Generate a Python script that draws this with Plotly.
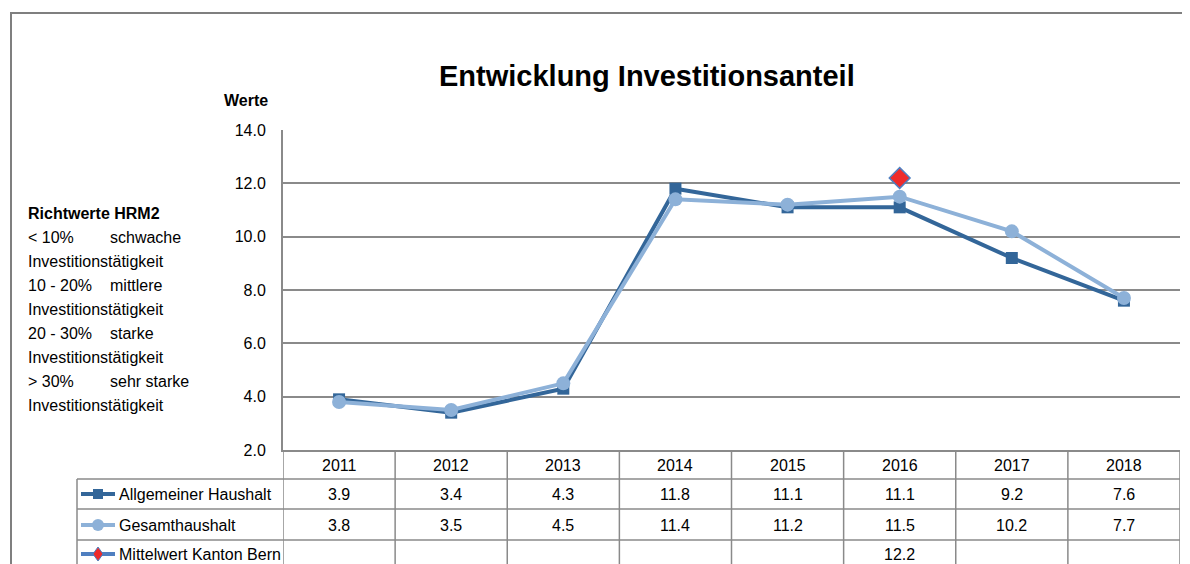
import plotly.graph_objects as go

years = ["2011", "2012", "2013", "2014", "2015", "2016", "2017", "2018"]
allgemeiner = [3.9, 3.4, 4.3, 11.8, 11.1, 11.1, 9.2, 7.6]
gesamt = [3.8, 3.5, 4.5, 11.4, 11.2, 11.5, 10.2, 7.7]
mittelwert = [None, None, None, None, None, 12.2, None, None]
series_names = ["Allgemeiner Haushalt", "Gesamthaushalt", "Mittelwert Kanton Bern"]
y_ticks = [2.0, 4.0, 6.0, 8.0, 10.0, 12.0, 14.0]
title_text = "Entwicklung Investitionsanteil"
y_title = "Werte"
richtwerte_title = "Richtwerte HRM2"
richtwerte_lines = [
    ("< 10%", "schwache"), ("Investitionstätigkeit", ""),
    ("10 - 20%", "mittlere"), ("Investitionstätigkeit", ""),
    ("20 - 30%", "starke"), ("Investitionstätigkeit", ""),
    ("> 30%", "sehr starke"), ("Investitionstätigkeit", ""),
]

OFF = 8  # page body margin
W, H = 1190 - OFF, 564 - OFF
L, R, T, B = 283 - OFF, 1180 - OFF, 130 - OFF, 450 - OFF
FONT = "Liberation Sans, Arial, sans-serif"
DARK = "#336699"
LIGHT = "#8DB1D8"
GRID = "#8a8a8a"
RED = "#EE2B2B"
DBORDER = "#4F7FC0"


def px(x):  # reference page pixel -> paper x
    return (x - OFF - L) / (R - L)


def py(y):  # reference page pixel -> paper y
    return (B - (y - OFF)) / (B - T)


fig = go.Figure()
fig.add_trace(go.Scatter(x=list(range(len(years))), y=allgemeiner, name=series_names[0],
                         mode="lines+markers", line=dict(color=DARK, width=4),
                         marker=dict(symbol="square", size=12, color=DARK)))
fig.add_trace(go.Scatter(x=list(range(len(years))), y=gesamt, name=series_names[1],
                         mode="lines+markers", line=dict(color=LIGHT, width=4),
                         marker=dict(symbol="circle", size=14, color=LIGHT)))
fig.add_trace(go.Scatter(x=list(range(len(years))), y=mittelwert, name=series_names[2],
                         mode="markers",
                         marker=dict(symbol="diamond", size=16, color=RED,
                                     line=dict(color=DBORDER, width=1.5))))

shapes = []
ann = []
TXT = dict(color="black", family=FONT)

# outer frame
shapes.append(dict(type="rect", xref="paper", yref="paper", x0=px(11), x1=px(1200),
                   y0=py(590), y1=py(13), line=dict(color="#7f7f7f", width=2)))

# table horizontal lines
for yy in [479, 509, 540]:
    shapes.append(dict(type="line", xref="paper", yref="paper", x0=px(77), x1=px(1180),
                       y0=py(yy), y1=py(yy), line=dict(color=GRID, width=1.5)))
# table vertical lines
shapes.append(dict(type="line", xref="paper", yref="paper", x0=px(77), x1=px(77),
                   y0=py(479), y1=py(580), line=dict(color=GRID, width=1.5)))
for i in range(len(years) + 1):
    shapes.append(dict(type="line", xref="x", yref="paper", x0=i - 0.5, x1=i - 0.5,
                       y0=0, y1=py(580), line=dict(color=GRID, width=1.5)))

# table texts
rows_y = [494, 525, 554]
for i, yr in enumerate(years):
    ann.append(dict(x=i, y=py(465), xref="x", yref="paper", text=yr, showarrow=False,
                    xanchor="center", yanchor="middle", font=dict(size=16, **TXT)))
for vals, ry in [(allgemeiner, rows_y[0]), (gesamt, rows_y[1]), (mittelwert, rows_y[2])]:
    for i, v in enumerate(vals):
        if v is not None:
            ann.append(dict(x=i, y=py(ry), xref="x", yref="paper", text=f"{v:.1f}",
                            showarrow=False, xanchor="center", yanchor="middle",
                            font=dict(size=16, **TXT)))

# legend keys in table
for k, ry in enumerate(rows_y):
    col = [DARK, LIGHT, DBORDER][k]
    shapes.append(dict(type="line", xref="paper", yref="paper", x0=px(81), x1=px(115),
                       y0=py(ry), y1=py(ry), line=dict(color=col, width=4)))
    cx, cy = 98, ry
    if k == 0:
        shapes.append(dict(type="rect", xref="paper", yref="paper", x0=px(cx - 5), x1=px(cx + 5),
                           y0=py(cy + 5), y1=py(cy - 5), fillcolor=DARK, line=dict(width=0)))
    elif k == 1:
        shapes.append(dict(type="circle", xref="paper", yref="paper", x0=px(cx - 6), x1=px(cx + 6),
                           y0=py(cy + 6), y1=py(cy - 6), fillcolor=LIGHT, line=dict(width=0)))
    else:
        path = "M {} {} L {} {} L {} {} L {} {} Z".format(
            px(cx), py(cy - 7), px(cx + 5), py(cy), px(cx), py(cy + 7), px(cx - 5), py(cy))
        shapes.append(dict(type="path", xref="paper", yref="paper", path=path,
                           fillcolor=RED, line=dict(color=DBORDER, width=1)))
    ann.append(dict(x=px(117), y=py(ry), xref="paper", yref="paper", text=series_names[k],
                    showarrow=False, xanchor="left", yanchor="middle",
                    font=dict(size=16, **TXT)))

# title and y title
ann.append(dict(x=px(647), y=py(76), xref="paper", yref="paper", text=f"<b>{title_text}</b>",
                showarrow=False, xanchor="center", yanchor="middle", font=dict(size=29, **TXT)))
ann.append(dict(x=px(270), y=py(100), xref="paper", yref="paper", text=f"<b>{y_title}</b>",
                showarrow=False, xanchor="right", yanchor="middle", font=dict(size=16, **TXT)))

# Richtwerte text block
ann.append(dict(x=px(26), y=py(213), xref="paper", yref="paper", text=f"<b>{richtwerte_title}</b>",
                showarrow=False, xanchor="left", yanchor="middle", font=dict(size=16, **TXT)))
for j, (a, b) in enumerate(richtwerte_lines):
    yy = 237 + 24.1 * j
    ann.append(dict(x=px(26), y=py(yy), xref="paper", yref="paper", text=a, showarrow=False,
                    xanchor="left", yanchor="middle", font=dict(size=16, **TXT)))
    if b:
        ann.append(dict(x=px(108), y=py(yy), xref="paper", yref="paper", text=b, showarrow=False,
                        xanchor="left", yanchor="middle", font=dict(size=16, **TXT)))

fig.update_layout(
    width=W, height=H,
    margin=dict(l=L, r=W - R, t=T, b=H - B, pad=0),
    paper_bgcolor="white", plot_bgcolor="white",
    showlegend=False,
    shapes=shapes, annotations=ann,
    font=dict(family=FONT, size=16, color="black"),
    xaxis=dict(range=[-0.5, len(years) - 0.5], showticklabels=False,
               showgrid=False, zeroline=False, showline=True, linecolor=GRID, linewidth=2,
               ticks=""),
    yaxis=dict(range=[2, 14], tickvals=y_ticks, tickformat=".1f", showgrid=True,
               gridcolor=GRID, gridwidth=2, zeroline=False, showline=True, linecolor=GRID,
               linewidth=2, ticks="", ticklabelstandoff=12,
               tickfont=dict(size=16, **TXT)),
)

fig.write_html("out.html")
